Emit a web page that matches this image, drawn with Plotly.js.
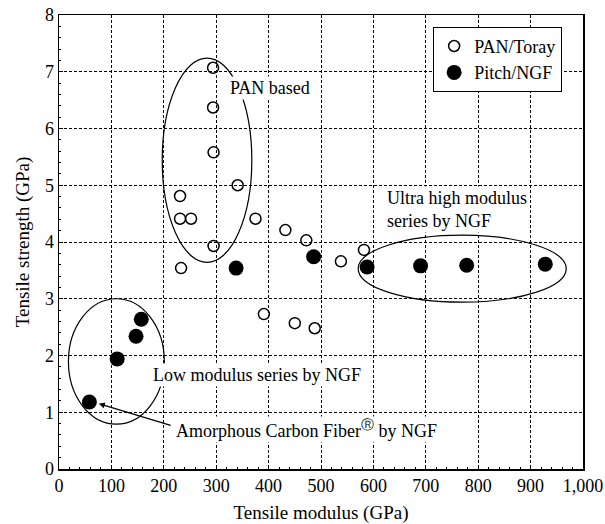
<!DOCTYPE html>
<html>
<head>
<meta charset="utf-8">
<script src="https://cdn.plot.ly/plotly-3.0.1.min.js"></script>
<style>html,body{margin:0;padding:0;background:#fff;}#chart{width:605px;height:524px;}</style>
</head>
<body>
<div id="chart"></div>
<script>
// PAN/Toray (open circles)
const panModulus  = [294, 294, 295, 341, 231, 231, 252, 375, 432, 295, 233, 472, 582, 538, 391, 450, 488];
const panStrength = [7.07, 6.37, 5.58, 5.00, 4.81, 4.41, 4.41, 4.41, 4.21, 3.93, 3.54, 4.03, 3.86, 3.66, 2.73, 2.57, 2.48];
// Pitch/NGF (filled circles)
const pitchModulus  = [58, 111, 147, 157, 338, 486, 588, 690, 778, 928];
const pitchStrength = [1.18, 1.94, 2.34, 2.64, 3.54, 3.74, 3.56, 3.58, 3.59, 3.61];

const xTickVals = [0, 100, 200, 300, 400, 500, 600, 700, 800, 900, 1000];
const xTickText = ["0", "100", "200", "300", "400", "500", "600", "700", "800", "900", "1,000"];
const yTickVals = [0, 1, 2, 3, 4, 5, 6, 7, 8];

const FONT = "'Liberation Serif', 'Times New Roman', serif";

const traces = [
  {
    x: panModulus, y: panStrength, type: "scatter", mode: "markers", name: "PAN/Toray",
    marker: {symbol: "circle-open", size: 11, color: "#000", line: {width: 1.5, color: "#000"}}
  },
  {
    x: pitchModulus, y: pitchStrength, type: "scatter", mode: "markers", name: "Pitch/NGF",
    marker: {symbol: "circle", size: 15, color: "#000"}
  }
];

const layout = {
  width: 605, height: 524,
  margin: {l: 59, r: 22, t: 15, b: 55},
  paper_bgcolor: "#fff", plot_bgcolor: "#fff",
  font: {family: FONT, size: 18, color: "#000"},
  showlegend: true,
  legend: {
    x: 0.714, y: 0.974, xanchor: "left", yanchor: "top",
    bgcolor: "#fff", bordercolor: "#000", borderwidth: 1,
    font: {family: FONT, size: 18, color: "#000"},
    tracegroupgap: 0
  },
  xaxis: {
    range: [0, 1000], tickmode: "array", tickvals: xTickVals, ticktext: xTickText,
    showgrid: true, gridcolor: "#000", gridwidth: 1, griddash: "3px,2px",
    zeroline: false, showline: true, linecolor: "#000", linewidth: 1.5, mirror: true,
    ticks: "inside", ticklen: 4, tickcolor: "#000",
    minor: {dtick: 20, ticks: "inside", ticklen: 2, tickcolor: "#000"},
    tickfont: {family: FONT, size: 18},
    title: {text: "Tensile modulus (GPa)", font: {family: FONT, size: 19}, standoff: 12}
  },
  yaxis: {
    range: [0, 8], tickmode: "array", tickvals: yTickVals,
    showgrid: true, gridcolor: "#000", gridwidth: 1, griddash: "3px,2px",
    zeroline: false, showline: true, linecolor: "#000", linewidth: 1.5, mirror: true,
    ticks: "inside", ticklen: 4, tickcolor: "#000",
    minor: {dtick: 0.2, ticks: "inside", ticklen: 2, tickcolor: "#000"},
    tickfont: {family: FONT, size: 18},
    title: {text: "Tensile strength (GPa)", font: {family: FONT, size: 19}, standoff: 10}
  },
  shapes: [
    {type: "circle", xref: "x", yref: "y", x0: 197, x1: 368, y0: 3.64, y1: 7.24,
     line: {color: "#000", width: 1.2}},
    {type: "circle", xref: "x", yref: "y", x0: 571, x1: 968, y0: 2.94, y1: 4.12,
     line: {color: "#000", width: 1.2}},
    {type: "circle", xref: "x", yref: "y", x0: 18, x1: 201, y0: 0.79, y1: 3.0,
     line: {color: "#000", width: 1.2}}
  ],
  annotations: [
    {x: 322, y: 6.71, xref: "x", yref: "y", text: "PAN based", showarrow: false,
     xanchor: "left", yanchor: "middle", bgcolor: "#fff", font: {family: FONT, size: 18}},
    {x: 622, y: 4.58, xref: "x", yref: "y", text: "Ultra high modulus<br>series by NGF", showarrow: false,
     xanchor: "left", yanchor: "middle", align: "left", bgcolor: "#fff", font: {family: FONT, size: 18}},
    {x: 176, y: 1.66, xref: "x", yref: "y", text: "Low modulus series by NGF", showarrow: false,
     xanchor: "left", yanchor: "middle", bgcolor: "#fff", font: {family: FONT, size: 18}},
    {x: 219, y: 0.69, xref: "x", yref: "y", text: "Amorphous Carbon Fiber<sup>Ⓡ</sup> by NGF", showarrow: false,
     xanchor: "left", yanchor: "middle", bgcolor: "#fff", font: {family: FONT, size: 18}},
    {x: 76, y: 1.15, ax: 216, ay: 0.76, xref: "x", yref: "y", axref: "x", ayref: "y",
     text: "", showarrow: true, arrowhead: 2, arrowsize: 1, arrowwidth: 1.2, arrowcolor: "#000"}
  ]
};

Plotly.newPlot("chart", traces, layout, {displayModeBar: false, staticPlot: true});
</script>
</body>
</html>
